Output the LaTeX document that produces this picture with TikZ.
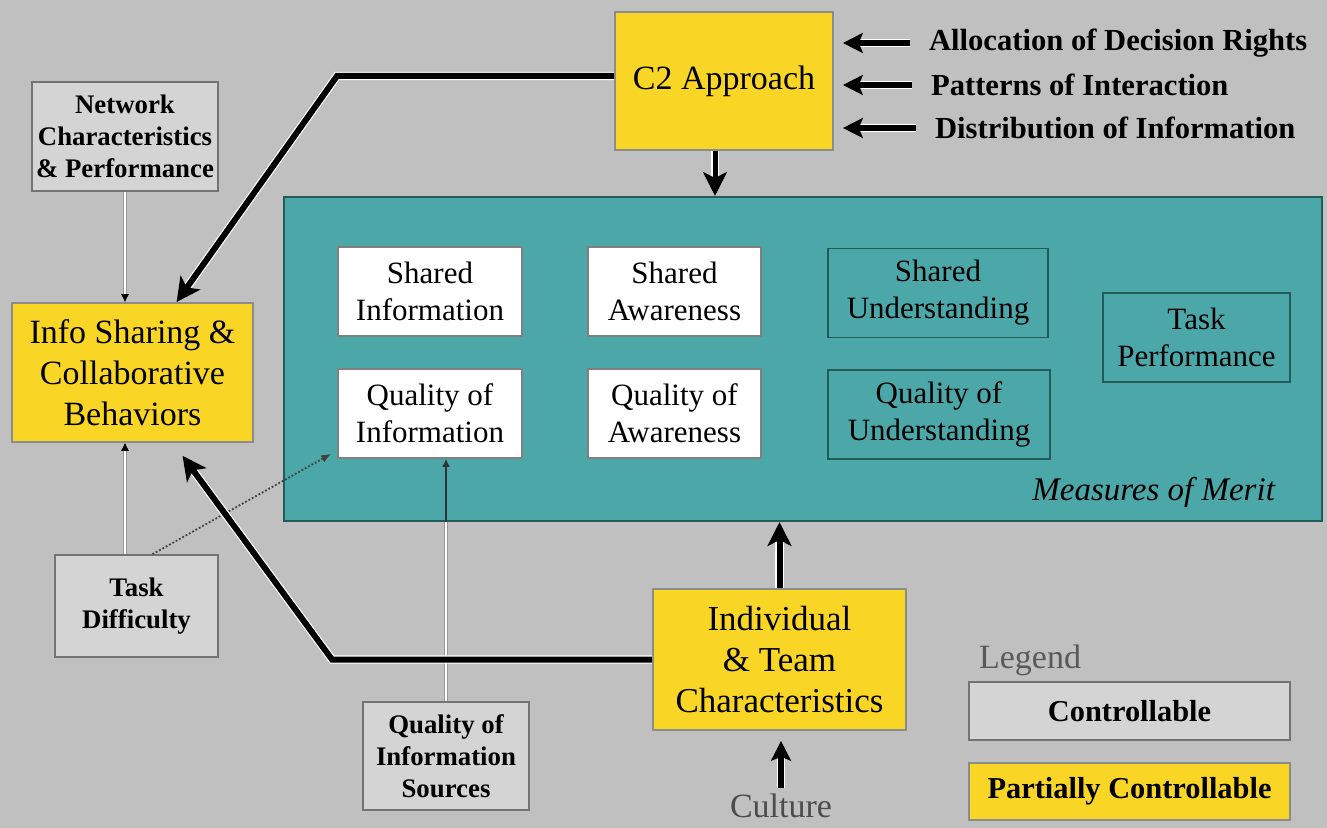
\documentclass[tikz,border=0pt]{standalone}
\usepackage{fontspec}
\setmainfont{Liberation Serif}
\usetikzlibrary{arrows.meta}
\definecolor{bggray}{RGB}{192,192,192}
\definecolor{boxgray}{RGB}{212,212,212}
\definecolor{boxyellow}{RGB}{249,214,38}
\definecolor{meritteal}{RGB}{76,168,168}
\definecolor{tealedge}{RGB}{35,90,90}
\tikzset{
  graybox/.style={draw=black!55,line width=0.8pt,fill=boxgray,align=center,inner sep=0pt,
    font=\bfseries\fontsize{13.4}{16}\selectfont},
  yellowbox/.style={draw=black!45,line width=0.8pt,fill=boxyellow,align=center,inner sep=0pt,
    font=\fontsize{17}{20.5}\selectfont},
  whitebox/.style={draw=black!50,line width=0.8pt,fill=white,align=center,inner sep=0pt,
    minimum height=44.5pt,font=\fontsize{15.5}{18.5}\selectfont},
  tealbox/.style={whitebox,fill=meritteal,draw=tealedge},
  bigarrow/.style={line width=3pt,preaction={draw=white,line width=4.2pt},
    -{Stealth[length=12pt,width=12pt,inset=3pt]}},
  sidearrow/.style={line width=3pt,preaction={draw=white,line width=4.2pt},
    -{Stealth[length=10pt,width=10pt,inset=2pt]}},
  thinwhite/.style={white,line width=1.4pt,preaction={draw=black!40,line width=2.4pt}},
  rightlabel/.style={anchor=west,font=\bfseries\fontsize{15.3}{18}\selectfont}
}
\begin{document}
\begin{tikzpicture}[x=0.5pt,y=-0.5pt]
    % Background
    \fill[bggray] (0,0) rectangle (1327,828);
    % Measures of merit panel
    \node[draw=tealedge,line width=1pt,fill=meritteal,minimum width=519pt,minimum height=162pt,inner sep=0pt] (mom) at (803,359) {};
    \node[anchor=east,font=\itshape\fontsize{16.5}{19}\selectfont] (merit) at (1282,492) {Measures of Merit};
    \node[whitebox,minimum width=92pt] (sinfo) at (430,291.5) {Shared\\Information};
    \node[whitebox,minimum width=86.5pt] (sawa) at (674.5,291.5) {Shared\\Awareness};
    \node[tealbox,minimum width=110pt] (sund) at (938,293) {Shared\\Understanding};
    \node[whitebox,minimum width=92pt] (qinfo) at (430,413.5) {Quality of\\Information};
    \node[whitebox,minimum width=86.5pt] (qawa) at (674.5,413.5) {Quality of\\Awareness};
    \node[tealbox,minimum width=111pt] (qund) at (939,414.5) {Quality of\\Understanding};
    \node[tealbox,minimum width=93.5pt] (tperf) at (1196.5,337.5) {Task\\Performance};
    % Partially controllable factors
    \node[yellowbox,minimum width=109pt,minimum height=69pt] (c2) at (724,81) {C2 Approach};
    \node[yellowbox,minimum width=120.5pt,minimum height=69.5pt] (info) at (132.5,372.5) {Info Sharing \&\\Collaborative\\Behaviors};
    \node[yellowbox,font=\fontsize{17.5}{20.5}\selectfont,minimum width=126.5pt,minimum height=70.5pt] (indiv) at (779.5,659.5) {Individual\\\& Team\\Characteristics};
    % Controllable factors
    \node[graybox,minimum width=93pt,minimum height=54.5pt] (net) at (125,136.5) {Network\\Characteristics\\\& Performance};
    \node[graybox,minimum width=81.5pt,minimum height=51pt] (task) at (136.5,606) {Task\\Difficulty};
    \node[graybox,minimum width=83pt,minimum height=54pt] (qis) at (446,756) {Quality of\\Information\\Sources};
    % C2 inputs
    \node[rightlabel] (rights) at (922,43) {Allocation of Decision Rights};
    \node[rightlabel] (inter) at (924,85) {Patterns of Interaction};
    \node[rightlabel] (distr) at (928,128) {Distribution of Information};
    \node[font=\fontsize{17}{20}\selectfont,text=black!70,inner sep=1pt] (culture) at (781,806) {Culture};
    % Legend
    \node[anchor=west,font=\fontsize{17}{20}\selectfont,text=black!65] (legend) at (972,660) {Legend};
    \node[graybox,font=\bfseries\fontsize{15.2}{18}\selectfont,minimum width=160.5pt,minimum height=29pt] (ctrl) at (1129.5,711) {Controllable};
    \node[yellowbox,font=\bfseries\fontsize{15.2}{18}\selectfont,minimum width=160.5pt,minimum height=28.5pt] (pctrl) at (1129.5,791.5) {Partially Controllable};
    % Thin links
    \coordinate (qisin) at (qis.north |- mom.south);
    \draw[thinwhite,-{Latex[length=4pt,width=4pt,color=black]}] (net.south) -- (net.south |- info.north);
    \draw[thinwhite,-{Latex[length=4pt,width=4pt,color=black]}] (net.south |- task.north) -- (net.south |- info.south);
    \draw[thinwhite] (qis.north) -- (qisin);
    \draw[black!80,line width=0.8pt,-{Latex[length=4pt,width=4pt]}] (qisin) -- (qisin |- qinfo.south);
    \draw[black!75,densely dotted,line width=0.9pt,-{Latex[length=5pt,width=4pt]}] ([xshift=8pt]task.north) -- ([xshift=-3pt,yshift=2.5pt]qinfo.south west);
    % Thick links
    \coordinate (bendtop) at (337,76);
    \coordinate (bendlow) at (332,659.5);
    \coordinate (c2out) at ([xshift=-4.5pt]c2.south);
    \draw[bigarrow] ([yshift=2.5pt]c2.west) -- (bendtop) -- ([xshift=22pt]info.north);
    \draw[bigarrow] (indiv.west) -- (bendlow) -- ([xshift=25pt,yshift=-6.5pt]info.south);
    \draw[bigarrow,line width=2.5pt] (c2out) -- (c2out |- mom.north);
    \draw[bigarrow] (indiv.north) -- (indiv.north |- mom.south);
    \draw[sidearrow,shorten >=5pt,shorten <=2pt] (culture.north) -- (culture.north |- indiv.south);
    \draw[sidearrow,shorten <=6pt,shorten >=4.5pt] (rights.west) -- (rights.west -| c2.east);
    \draw[sidearrow,shorten <=6pt,shorten >=4.5pt] (inter.west) -- (inter.west -| c2.east);
    \draw[sidearrow,shorten <=6pt,shorten >=4.5pt] (distr.west) -- (distr.west -| c2.east);
\end{tikzpicture}
\end{document}
